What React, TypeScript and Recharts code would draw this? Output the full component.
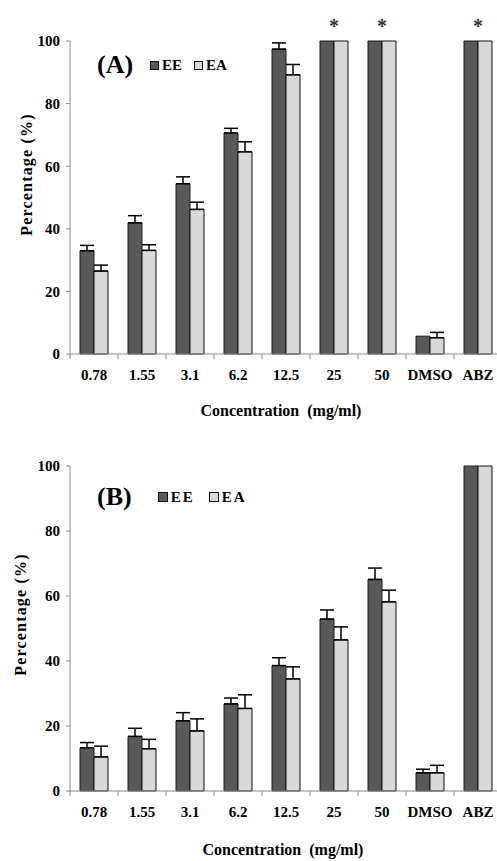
import { BarChart, Bar, XAxis, YAxis, ErrorBar, Legend, LabelList } from "recharts";

const categories = ["0.78", "1.55", "3.1", "6.2", "12.5", "25", "50", "DMSO", "ABZ"];
const seriesNames = ["EE", "EA"];
const yTicks = [0, 20, 40, 60, 80, 100];

// panel A
const eeA = [33, 41.9, 54.4, 70.6, 97.4, 100, 100, 5.7, 100];
const eeAErr = [1.7, 2.3, 2.2, 1.5, 2.0, 0, 0, 0, 0];
const eaA = [26.5, 33.1, 46.2, 64.6, 89.2, 100, 100, 5.2, 100];
const eaAErr = [1.9, 1.8, 2.3, 3.2, 3.3, 0, 0, 1.7, 0];
const sigA = ["", "", "", "", "", "*", "*", "", "*"];

// panel B
const eeB = [13.3, 16.8, 21.6, 26.8, 38.6, 52.9, 65.1, 5.6, 100];
const eeBErr = [1.6, 2.5, 2.5, 1.8, 2.4, 2.8, 3.5, 1.1, 0];
const eaB = [10.5, 13.0, 18.5, 25.4, 34.5, 46.5, 58.2, 5.6, 100];
const eaBErr = [3.3, 2.9, 3.7, 4.2, 3.7, 4.0, 3.6, 2.3, 0];
const sigB = ["", "", "", "", "", "", "", "", ""];

const FONT = "Liberation Serif";
const AXIS = "#8a8a8a";
const PLOT_W = 432;
const BAND = PLOT_W / categories.length;

const plusErr = (e: number) => (e > 0 ? [0, e] : null);

const build = (ee: number[], eeErr: number[], ea: number[], eaErr: number[], sig: string[]) =>
  categories.map((c, i) => ({
    cat: c,
    ee: ee[i],
    ea: ea[i],
    eeErr: plusErr(eeErr[i]),
    eaErr: plusErr(eaErr[i]),
    sig: sig[i],
  }));

const dataA = build(eeA, eeAErr, eaA, eaAErr, sigA);
const dataB = build(eeB, eeBErr, eaB, eaBErr, sigB);

function CatTick(props: any) {
  const { x, y, payload, index } = props;
  const left = x - BAND / 2;
  return (
    <g>
      <line x1={left} x2={left} y1={y} y2={y + 5} stroke={AXIS} />
      {index === categories.length - 1 && (
        <line x1={x + BAND / 2} x2={x + BAND / 2} y1={y} y2={y + 5} stroke={AXIS} />
      )}
      <text x={x} y={y + 26} textAnchor="middle" style={{ fontFamily: FONT, fontWeight: 700, fontSize: 15 }} fill="#000">
        {payload.value}
      </text>
    </g>
  );
}

function Star(props: any) {
  const { x, y, width, value } = props;
  if (!value) return null;
  return (
    <text x={x + width} y={y - 8} textAnchor="middle" style={{ fontFamily: FONT, fontWeight: 700, fontSize: 20 }} fill="#333">
      {value}
    </text>
  );
}

function PanelLegend({ payload, tag, gaps, box }: any) {
  const items = [...(payload || [])].sort((a: any, b: any) => seriesNames.indexOf(a.value) - seriesNames.indexOf(b.value));
  return (
    <div style={{ display: "flex", alignItems: "center", fontFamily: FONT, fontWeight: 700, height: 30, lineHeight: "30px", whiteSpace: "nowrap" }}>
      <span style={{ fontSize: 26, marginRight: gaps[0] }}>{tag}</span>
      {items.map((p: any, i: number) => (
        <span key={p.value} style={{ display: "flex", alignItems: "center", marginRight: i === 0 ? gaps[1] : 0 }}>
          <span style={{ width: box, height: box, background: p.color, border: "1px solid #111", marginRight: 3, display: "inline-block" }} />
          <span style={{ fontSize: 15, letterSpacing: gaps[2] }}>{p.value}</span>
        </span>
      ))}
    </div>
  );
}

function Panel({ data, tag, top, height, marginTop, plotH, legendTop, gaps, box, yTitle, xTitle }: any) {
  return (
    <div style={{ position: "absolute", left: 0, top, width: 510, height }}>
      <BarChart width={510} height={height} data={data} margin={{ top: marginTop, right: 8, left: 0, bottom: 0 }} barSize={14} barGap={0}>
        <XAxis
          dataKey="cat"
          height={height - marginTop - plotH}
          stroke={AXIS}
          tickLine={false}
          tickSize={0}
          tickMargin={0}
          interval={0}
          tick={<CatTick />}
          label={{
            content: (p: any) => {
              const vb = p.viewBox;
              return (
                <text x={vb.x + vb.width / 2 + xTitle[0]} y={vb.y + xTitle[1]} textAnchor="middle" style={{ fontFamily: FONT, fontWeight: 700, fontSize: 16 }} fill="#000">
                  {"Concentration \u00a0(mg/ml)"}
                </text>
              );
            },
          }}
        />
        <YAxis
          width={70}
          domain={[0, 100]}
          ticks={yTicks}
          interval={0}
          stroke={AXIS}
          tickSize={4}
          tickMargin={6}
          tick={{ fill: "#000", style: { fontFamily: FONT, fontWeight: 700, fontSize: 15 } }}
          label={{
            content: (p: any) => {
              const vb = p.viewBox;
              const cx = vb.x + yTitle[0];
              const cy = vb.y + vb.height / 2 + yTitle[1];
              return (
                <text x={cx} y={cy} transform={`rotate(-90, ${cx}, ${cy})`} textAnchor="middle" dominantBaseline="central" style={{ fontFamily: FONT, fontWeight: 700, fontSize: 16, letterSpacing: 1.2 }} fill="#000">
                  Percentage (%)
                </text>
              );
            },
          }}
        />
        <Legend
          layout="horizontal"
          verticalAlign="middle"
          align="center"
          wrapperStyle={{ top: legendTop, left: 97, width: "auto", height: 30 }}
          content={(p: any) => <PanelLegend payload={p.payload} tag={tag} gaps={gaps} box={box} />}
        />
        <Bar dataKey="ee" name="EE" fill="#595959" stroke="#1e1e1e" strokeWidth={1} isAnimationActive={false}>
          <ErrorBar dataKey="eeErr" width={7} stroke="#000" strokeWidth={1.5} direction="y" />
          <LabelList dataKey="sig" content={<Star />} />
        </Bar>
        <Bar dataKey="ea" name="EA" fill="#d9d9d9" stroke="#111" strokeWidth={1} isAnimationActive={false}>
          <ErrorBar dataKey="eaErr" width={7} stroke="#000" strokeWidth={1.5} direction="y" />
        </Bar>
      </BarChart>
    </div>
  );
}

export default function App() {
  return (
    <div style={{ position: "absolute", left: 0, top: 0, width: 497, height: 861, overflow: "hidden", background: "#fff" }}>
      <Panel data={dataA} tag="(A)" top={0} height={430} marginTop={41} plotH={313} legendTop={50} gaps={[17, 12, 0]} box={7} yTitle={[26, -23]} xTitle={[-5, 62]} />
      <Panel data={dataB} tag="(B)" top={430} height={431} marginTop={36} plotH={325} legendTop={52} gaps={[26, 14, 2]} box={8} yTitle={[20, -14]} xTitle={[-3, 64]} />
    </div>
  );
}
